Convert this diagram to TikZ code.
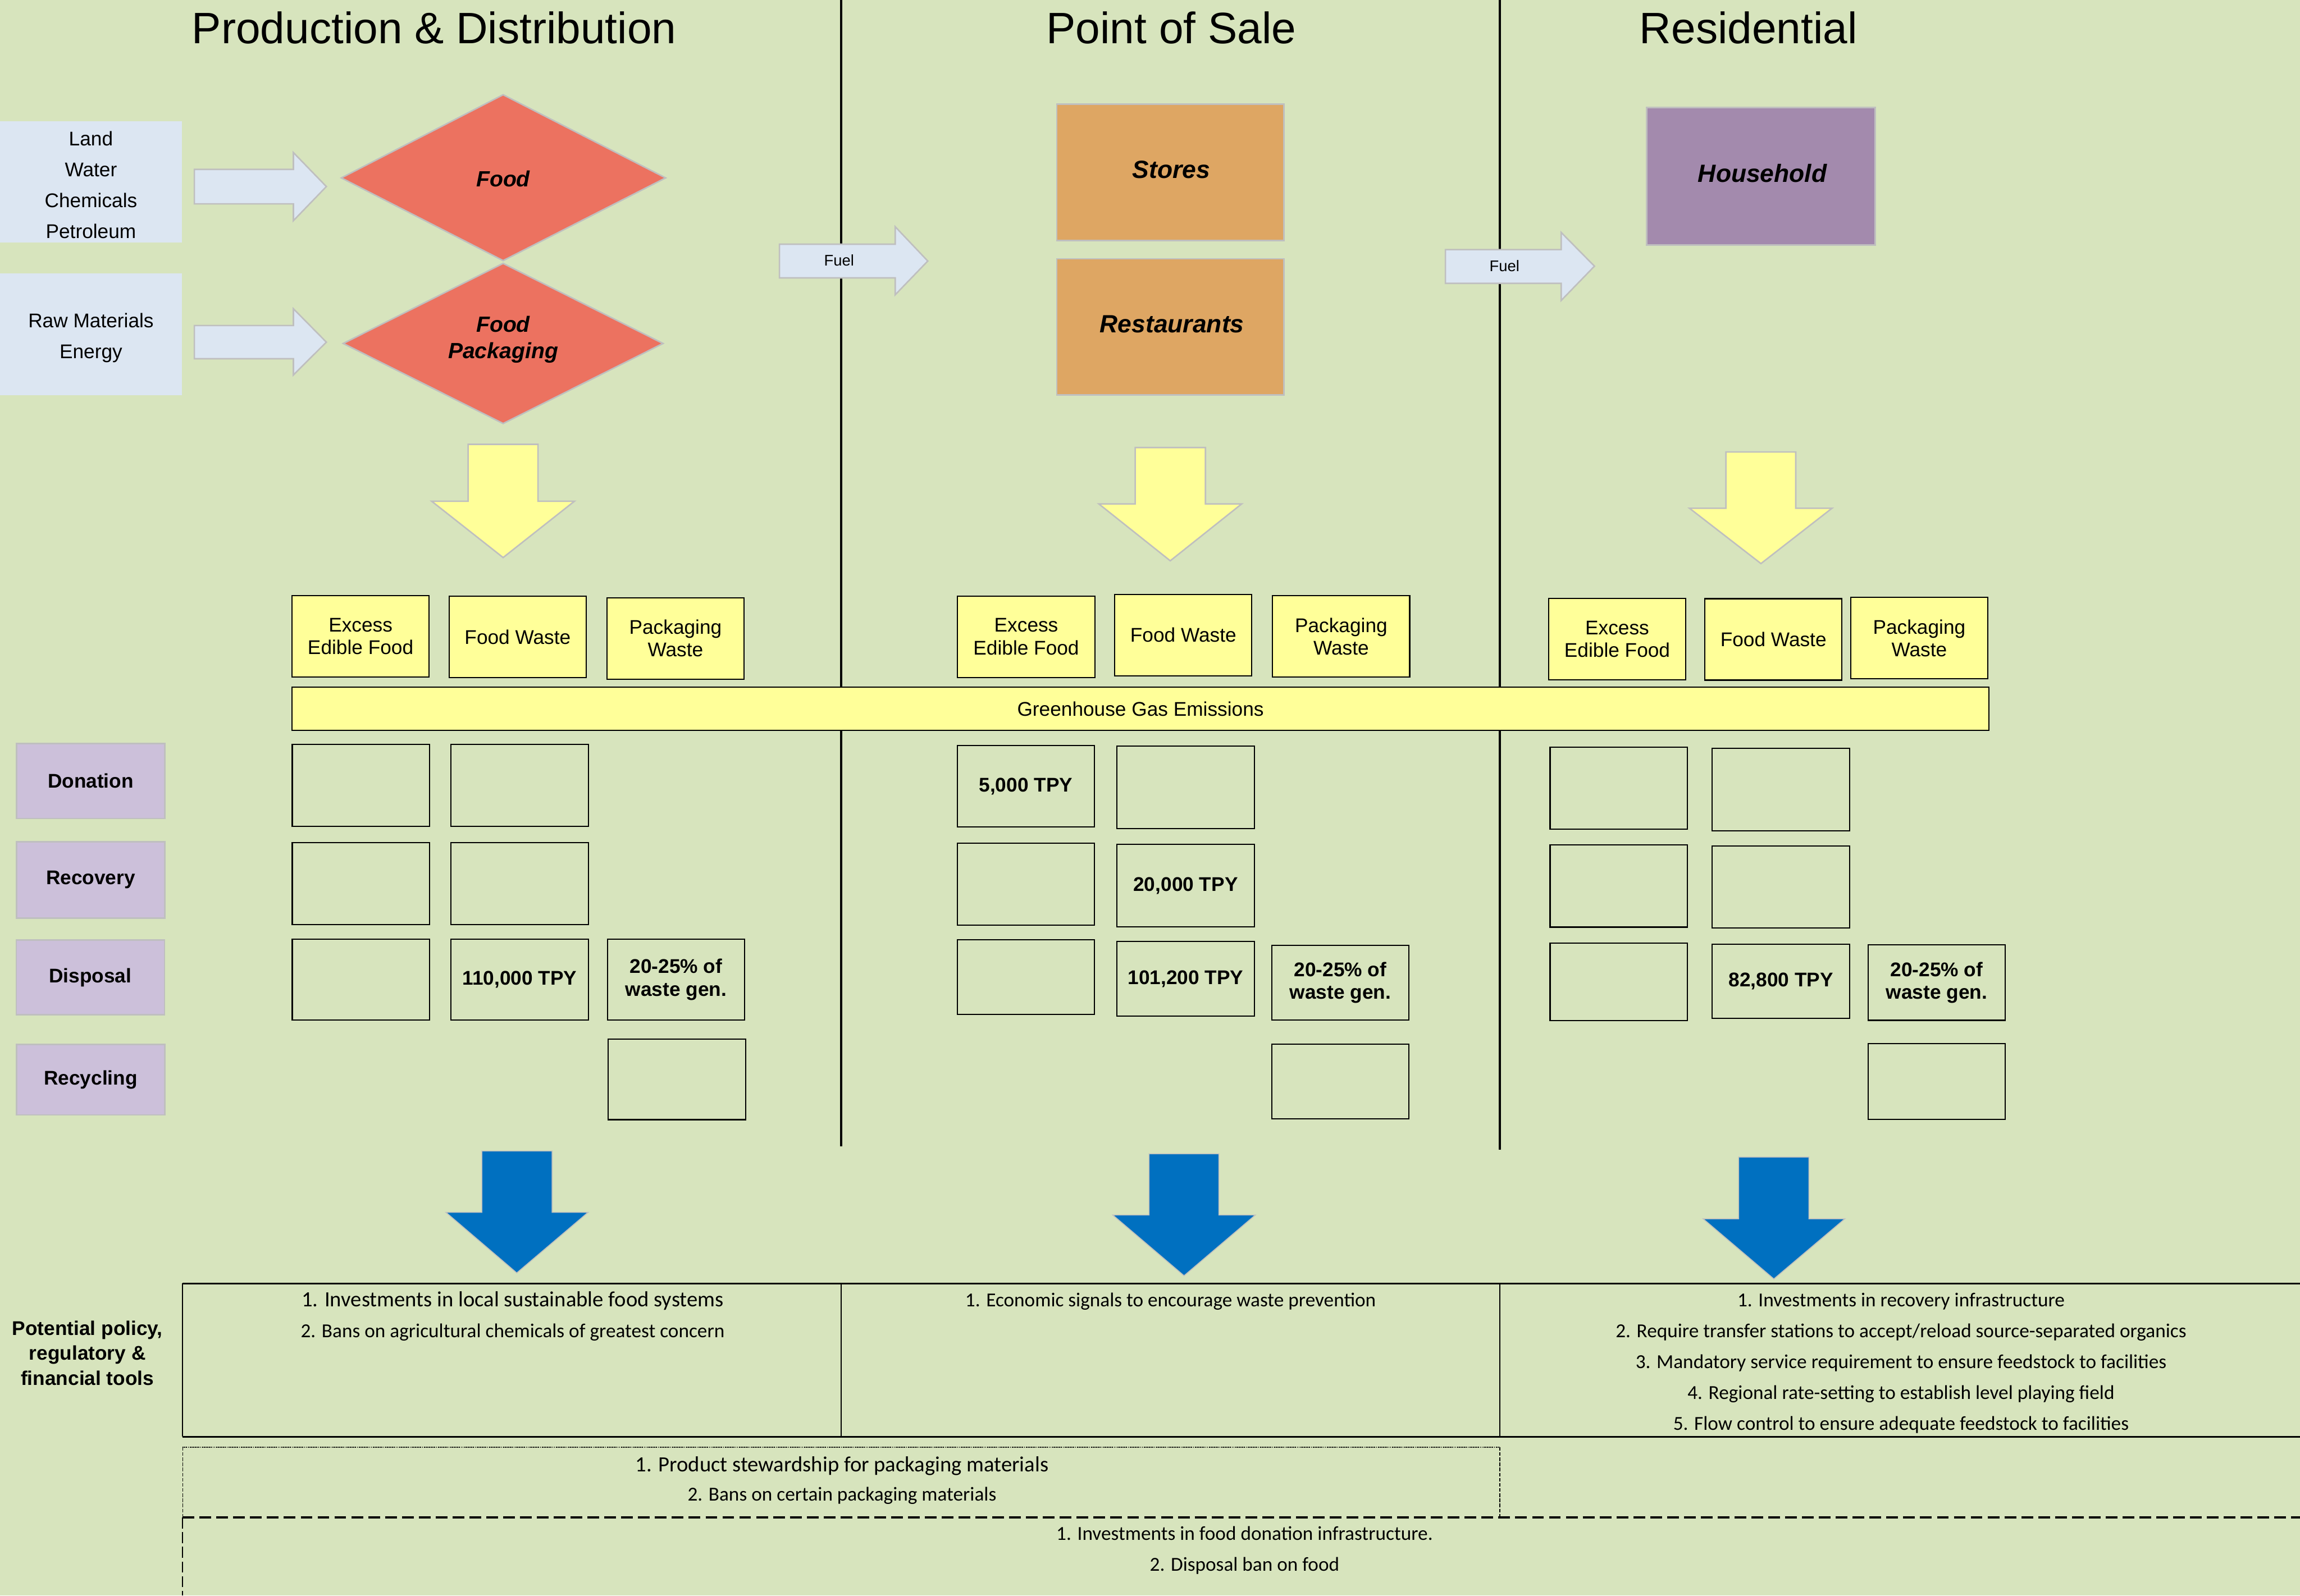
\documentclass[tikz,border=0pt]{standalone}
\usepackage{fontspec}
\setmainfont{Liberation Sans}
\newfontfamily\toolfont{Carlito}

\definecolor{pagegreen}{HTML}{D7E4BD}
\definecolor{inputblue}{HTML}{DCE6F2}
\definecolor{edgegrey}{HTML}{BFBFBF}
\definecolor{foodred}{HTML}{EC7260}
\definecolor{saleorange}{HTML}{DEA663}
\definecolor{homepurple}{HTML}{A38AAD}
\definecolor{rowlilac}{HTML}{CCC0DA}
\definecolor{wasteyellow}{HTML}{FFFF99}
\definecolor{toolblue}{HTML}{0070C0}

\begin{document}
\begin{tikzpicture}[x=1pt, y=-1pt,
    headtext/.style={font=\fontsize{30}{36}\selectfont},
    inputbox/.style={fill=inputblue, inner sep=0pt, minimum width=124pt, minimum height=83pt},
    inputtext/.style={align=center, font=\fontsize{13.5}{21}\selectfont},
    inarrow/.style={fill=inputblue, draw=edgegrey, line width=1pt},
    fueltext/.style={font=\fontsize{10.5}{12}\selectfont},
    sourceshape/.style={fill=foodred, draw=edgegrey, line width=1pt},
    sourcetext/.style={font=\bfseries\itshape\fontsize{15}{18}\selectfont, align=center},
    sitebox/.style={draw=edgegrey, line width=1pt, inner sep=0pt, minimum width=155pt, minimum height=93pt},
    sitetext/.style={font=\bfseries\itshape\fontsize{17}{20}\selectfont},
    wastearrow/.style={fill=wasteyellow, draw=edgegrey, line width=1pt},
    toolarrow/.style={fill=toolblue, draw=edgegrey, line width=0.6pt},
    wastebox/.style={draw=black, line width=0.8pt, fill=wasteyellow, inner sep=0pt, minimum width=93.5pt, minimum height=55.5pt, align=center, font=\fontsize{13.5}{15.5}\selectfont},
    cellbox/.style={draw=black, line width=0.8pt, inner sep=0pt, minimum width=93.5pt, minimum height=56pt, align=center, font=\bfseries\fontsize{13.5}{15.5}\selectfont},
    rowlabel/.style={draw=edgegrey, line width=1pt, fill=rowlilac, inner sep=0pt, minimum width=101pt, minimum height=51pt, font=\bfseries\fontsize{13.5}{16}\selectfont},
    divider/.style={line width=1.5pt},
    tooltext/.style={font=\toolfont\fontsize{13.5}{21}\selectfont, align=center},
]
    % Page and its green ground.
    \useasboundingbox (0,0) rectangle (1568,1088);
    \fill[pagegreen] (0,0) rectangle (1568,1088);

    % Stage dividers.
    \draw[divider] (573.5,0) -- (573.5,781.5);
    \draw[divider] (1022.6,0) -- (1022.6,783.8);

    \node[headtext] (prodhead) at (296,19) {Production \& Distribution};
    \node[headtext] (salehead) at (798.5,19) {Point of Sale};
    \node[headtext] (homehead) at (1192,19) {Residential};

    % Inputs to production.
    \node[inputbox] (rawbox) at (62,124) {};
    \node[inputtext] (rawinputs) at (62,126) {Land\\Water\\Chemicals\\Petroleum};
    \node[inputbox] (packbox) at (62,228) {};
    \node[inputtext] (packinputs) at (62,230.5) {Raw Materials\\Energy};
    \draw[inarrow] (132.5,115.5) -- (200,115.5) -- (200,104) -- (222.5,127.2)
        -- (200,150.5) -- (200,139) -- (132.5,139) -- cycle;
    \draw[inarrow] (132.5,222) -- (200,222) -- (200,210.5) -- (222.5,233.3)
        -- (200,255.7) -- (200,244.6) -- (132.5,244.6) -- cycle;

    \draw[sourceshape] (232.7,121.3) -- (343,64.6) -- (453.8,121.3) -- (343,177.7) -- cycle;
    \draw[sourceshape] (234,234.2) -- (343,179.6) -- (452,234.2) -- (343,288.8) -- cycle;
    \node[sourcetext] (foodsrc) at (343,122) {Food};
    \node[sourcetext] (packsrc) at (343,231.5) {Food\\Packaging};

    % Fuel carried between stages.
    \draw[inarrow] (531.4,166.5) -- (610.3,166.5) -- (610.3,154.6) -- (632.5,178)
        -- (610.3,201) -- (610.3,189.5) -- (531.4,189.5) -- cycle;
    \node[fueltext] (fuelsale) at (572,177.5) {Fuel};
    \draw[inarrow] (985.4,170.2) -- (1064.3,170.2) -- (1064.3,158.5) -- (1087,181.5)
        -- (1064.3,204.9) -- (1064.3,193.2) -- (985.4,193.2) -- cycle;
    \node[fueltext] (fuelhome) at (1025.7,181.5) {Fuel};

    \node[sitebox, fill=saleorange] (storebox) at (797.9,117.6) {};
    \node[sitetext] (stores) at (798.5,115.5) {Stores};
    \node[sitebox, fill=saleorange] (restbox) at (797.9,222.9) {};
    \node[sitetext] (restaurants) at (799,221.2) {Restaurants};
    \node[sitebox, fill=homepurple, minimum width=155.7pt, minimum height=93.8pt] (homebox) at (1200.5,120.2) {};
    \node[sitetext] (household) at (1201.5,118) {Household};

    % Waste arrows.
    \draw[wastearrow] (319.1,303) -- (366.8,303) -- (366.8,341.8) -- (391.6,341.8)
        -- (343,380.2) -- (294.3,341.8) -- (319.1,341.8) -- cycle;
    \draw[wastearrow] (773.9,305.2) -- (821.8,305.2) -- (821.8,343.6) -- (846.5,343.6)
        -- (797.8,382.4) -- (749.1,343.6) -- (773.9,343.6) -- cycle;
    \draw[wastearrow] (1176.6,308.2) -- (1224.2,308.2) -- (1224.2,346.6) -- (1248.9,346.6)
        -- (1200.5,384.3) -- (1151.8,346.6) -- (1176.6,346.6) -- cycle;

    % Waste streams.
    \node[wastebox] (excessprod) at (245.8,434) {Excess\\Edible Food};
    \node[wastebox] (foodprod) at (352.9,434.4) {Food Waste};
    \node[wastebox] (packprod) at (460.5,435.3) {Packaging\\Waste};
    \node[wastebox] (excesssale) at (699.6,434.2) {Excess\\Edible Food};
    \node[wastebox] (foodsale) at (806.7,433) {Food Waste};
    \node[wastebox] (packsale) at (914.3,434) {Packaging\\Waste};
    \node[wastebox] (excesshome) at (1102.5,435.9) {Excess\\Edible Food};
    \node[wastebox] (foodhome) at (1209,436) {Food Waste};
    \node[wastebox] (packhome) at (1308.4,435.2) {Packaging\\Waste};
    \node[wastebox, minimum width=1156.7pt, minimum height=29.2pt] (ghg) at (777.5,483.3) {Greenhouse Gas Emissions};

    % Fates of the waste.
    \node[rowlabel] (donation) at (61.8,532.6) {Donation};
    \node[rowlabel, minimum height=52pt] (recovery) at (61.8,600) {Recovery};
    \node[rowlabel] (disposal) at (61.6,666.5) {Disposal};
    \node[rowlabel, minimum height=48pt] (recycling) at (61.8,736.3) {Recycling};

    \node[cellbox] (donexprod) at (246,535.5) {};
    \node[cellbox] (donfoodprod) at (354.3,535.5) {};
    \node[cellbox] (recexprod) at (246,602.5) {};
    \node[cellbox] (recfoodprod) at (354.3,602.5) {};
    \node[cellbox, minimum height=55.4pt] (disexprod) at (246,668) {};
    \node[cellbox, minimum height=55.4pt] (disfoodprod) at (354.3,668) {110,000 TPY};
    \node[cellbox, minimum height=55.4pt] (dispackprod) at (460.9,668) {20-25\% of\\waste gen.};
    \node[cellbox, minimum height=55pt] (cycpackprod) at (461.5,736) {};

    \node[cellbox, minimum height=55.4pt] (donexsale) at (699.3,536.1) {5,000 TPY};
    \node[cellbox] (donfoodsale) at (808.3,536.9) {};
    \node[cellbox] (recexsale) at (699.3,602.9) {};
    \node[cellbox] (recfoodsale) at (808.3,603.9) {20,000 TPY};
    \node[cellbox, minimum height=51pt] (disexsale) at (699.3,666.4) {};
    \node[cellbox, minimum height=51pt] (disfoodsale) at (808.3,667.5) {101,200 TPY};
    \node[cellbox, minimum height=51pt] (dispacksale) at (913.7,670.1) {20-25\% of\\waste gen.};
    \node[cellbox, minimum height=51pt] (cycpacksale) at (913.7,737.4) {};

    \node[cellbox] (donexhome) at (1103.5,537.4) {};
    \node[cellbox] (donfoodhome) at (1214.1,538.4) {};
    \node[cellbox] (recexhome) at (1103.5,604.2) {};
    \node[cellbox] (recfoodhome) at (1214.1,604.9) {};
    \node[cellbox, minimum height=52.8pt] (disexhome) at (1103.5,669.4) {};
    \node[cellbox, minimum height=50.7pt] (disfoodhome) at (1214.1,669.2) {82,800 TPY};
    \node[cellbox, minimum height=51.5pt] (dispackhome) at (1320.3,670) {20-25\% of\\waste gen.};
    \node[cellbox, minimum height=51.5pt] (cycpackhome) at (1320.3,737.5) {};

    % Arrows into the policy tools.
    \draw[toolarrow] (328.5,784.9) -- (376.4,784.9) -- (376.4,826.7) -- (400.9,826.7)
        -- (352.3,868) -- (304,826.7) -- (328.5,826.7) -- cycle;
    \draw[toolarrow] (783.4,786.8) -- (830.9,786.8) -- (830.9,828.5) -- (855.8,828.5)
        -- (807.2,869.9) -- (758.6,828.5) -- (783.4,828.5) -- cycle;
    \draw[toolarrow] (1185.3,789) -- (1233.2,789) -- (1233.2,831.1) -- (1257.7,831.1)
        -- (1209.3,872.1) -- (1161.1,831.1) -- (1185.3,831.1) -- cycle;

    % Policy table.
    \draw[line width=1pt] (124.5,875.2) -- (1568,875.2);
    \draw[line width=1pt] (124.5,979.7) -- (1568,979.7);
    \draw[line width=0.6pt] (124.5,875.2) -- (124.5,979.7);
    \draw[line width=0.5pt] (573.5,875.2) -- (573.5,979.7);
    \draw[line width=0.5pt] (1022.5,875.2) -- (1022.5,979.7);

    \node[align=center, font=\bfseries\fontsize{13.5}{17}\selectfont] (toolhead) at (59.6,922.6)
        {Potential policy,\\regulatory \&\\financial tools};
    \node[tooltext] (toolsprod) at (349.5,897.5)
        {{\fontsize{14.8}{21}\selectfont 1. Investments in local sustainable food systems}\\2. Bans on agricultural chemicals of greatest concern};
    \node[tooltext] (toolssale) at (798,887.5) {1. Economic signals to encourage waste prevention};
    \node[tooltext] (toolshome) at (1296,929.5)
        {1. Investments in recovery infrastructure\\
         2. Require transfer stations to accept/reload source-separated organics\\
         3. Mandatory service requirement to ensure feedstock to facilities\\
         4. Regional rate-setting to establish level playing field\\
         5. Flow control to ensure adequate feedstock to facilities};

    % Packaging tools, dotted frame.
    \draw[line width=0.8pt, dash pattern=on 0.7pt off 0.5pt] (124.5,986.8) -- (1022.5,986.8);
    \draw[line width=0.5pt, dash pattern=on 2.5pt off 1pt] (124.5,986.8) -- (124.5,1034.8);
    \draw[line width=0.5pt, dash pattern=on 2.5pt off 1pt] (1022.5,986.8) -- (1022.5,1034.8);
    \node[tooltext, font=\toolfont\fontsize{13.5}{20}\selectfont] (toolspack) at (574,1009.5)
        {{\fontsize{14.8}{20}\selectfont 1. Product stewardship for packaging materials}\\2. Bans on certain packaging materials};

    % Tools across all stages, dashed frame.
    \draw[line width=1.7pt, dash pattern=on 8pt off 3.5pt] (124.5,1034.8) -- (1568,1034.8);
    \draw[line width=0.6pt, dash pattern=on 7.5pt off 2.5pt] (124.5,1034.8) -- (124.5,1088);
    \node[tooltext] (toolsall) at (848.5,1057.2)
        {1. Investments in food donation infrastructure.\\2. Disposal ban on food};
\end{tikzpicture}
\end{document}
